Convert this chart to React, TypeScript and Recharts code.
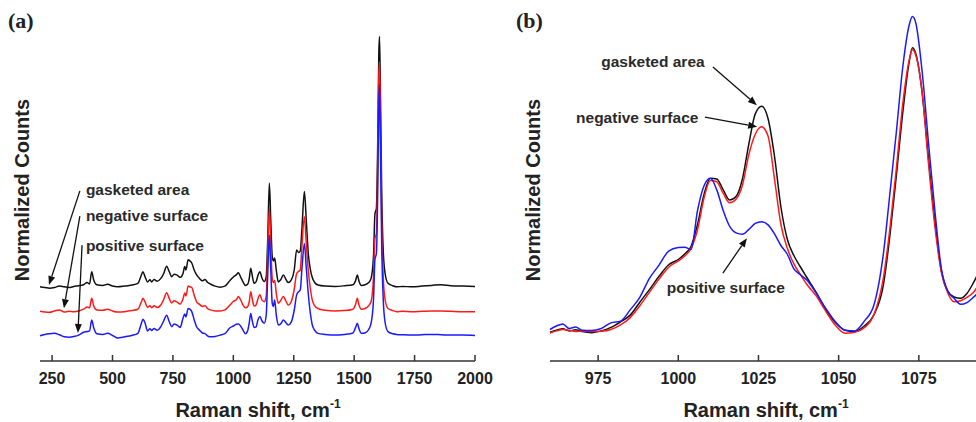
import { LineChart, Line, XAxis, YAxis, ReferenceLine, ReferenceDot } from "recharts";

// panel (a): full spectra
const shiftA = [
  200, 220, 240, 260, 280, 300, 320, 340, 360, 380, 395, 405, 414, 422, 435, 460, 480, 500, 520, 550,
  580, 605, 618, 626, 635, 645, 655, 662, 672, 685, 700, 712, 724, 735, 745, 755, 766, 780, 792, 799,
  804, 813, 820, 828, 838, 848, 860, 872, 883, 893, 905, 925, 945, 965, 986, 1000, 1012, 1021, 1030, 1040,
  1050, 1060, 1066, 1072, 1078, 1086, 1094, 1102, 1110, 1118, 1128, 1136, 1142, 1149, 1155, 1161, 1166, 1171, 1178, 1186,
  1196, 1207, 1217, 1227, 1240, 1252, 1262, 1270, 1277, 1284, 1294, 1302, 1310, 1318, 1326, 1336, 1350, 1380, 1420, 1460,
  1495, 1506, 1513, 1520, 1530, 1545, 1560, 1570, 1580, 1586, 1592, 1597, 1602, 1605, 1609, 1614, 1620, 1628, 1640, 1660,
  1676, 1700, 1740, 1780, 1820, 1860, 1900, 1950, 2000,
];
const gasketedA = [
  21.2, 21.0, 20.8, 21.0, 21.4, 21.2, 21.0, 21.3, 21.5, 21.8, 22.4, 22.0, 25.5, 23.2, 21.8, 21.6, 21.9, 21.4, 21.2, 21.4,
  21.7, 22.2, 24.3, 25.5, 24.0, 22.6, 23.2, 22.6, 23.3, 22.8, 23.6, 25.0, 27.1, 25.5, 24.1, 24.8, 24.6, 23.9, 25.1, 27.0,
  26.0, 28.9, 28.6, 28.0, 26.0, 24.6, 23.6, 22.9, 23.3, 22.5, 22.0, 21.4, 21.1, 21.4, 23.0, 24.0, 24.6, 25.2, 24.0, 22.6,
  21.6, 22.0, 23.6, 26.5, 24.5, 22.2, 22.6, 24.5, 25.5, 23.8, 22.7, 24.0, 34.0, 50.8, 40.0, 29.8, 28.6, 29.4, 25.8, 22.6,
  23.2, 24.6, 23.4, 22.4, 23.2, 26.0, 31.7, 31.0, 31.4, 38.0, 48.4, 40.0, 30.8, 26.5, 24.0, 22.5, 21.7, 21.4, 21.3, 21.5,
  21.8, 23.0, 24.6, 22.8, 21.6, 21.8, 22.4, 23.6, 30.0, 42.0, 43.6, 60.0, 88.0, 92.7, 75.0, 48.0, 32.0, 25.0, 22.2, 21.5,
  21.2, 21.3, 21.2, 21.4, 21.6, 21.8, 21.5, 21.4, 21.3,
];
const negativeA = [
  14.2, 14.0, 13.9, 14.3, 14.6, 14.0, 14.2, 14.1, 14.3, 14.8, 15.4, 15.2, 17.9, 15.8, 14.6, 14.5, 14.8, 14.3, 14.0, 14.1,
  14.4, 14.8, 16.6, 17.9, 16.8, 15.3, 15.8, 15.2, 15.8, 15.3, 16.0, 17.6, 19.5, 17.8, 16.6, 17.2, 16.9, 16.3, 17.8, 19.4,
  18.6, 21.4, 21.2, 21.0, 18.8, 16.9, 16.2, 15.6, 15.8, 15.0, 14.6, 14.3, 14.3, 14.6, 16.0, 17.0, 17.5, 18.4, 17.5, 16.0,
  15.2, 15.6, 17.0, 19.8, 17.8, 15.7, 16.0, 17.8, 18.9, 17.5, 16.9, 18.5, 30.0, 43.6, 33.0, 23.6, 22.4, 23.0, 19.2, 16.5,
  17.3, 18.4, 17.2, 16.0, 17.0, 20.5, 25.0, 25.6, 26.0, 33.0, 41.2, 33.5, 26.0, 21.0, 17.6, 15.8, 15.0, 14.5, 14.3, 14.4,
  14.8, 16.2, 17.9, 16.0, 14.8, 15.0, 15.8, 17.0, 24.0, 35.0, 36.5, 53.0, 81.0, 85.5, 67.0, 40.0, 24.5, 17.5, 15.0, 14.4,
  14.1, 14.2, 14.1, 14.2, 14.3, 14.3, 14.2, 14.1, 14.1,
];
const positiveA = [
  7.2, 7.6, 7.8, 7.9, 7.5, 6.9, 6.8, 7.0, 7.4, 8.2, 8.4, 8.6, 11.7, 9.6, 7.8, 7.6, 7.9, 7.3, 6.6, 6.9,
  7.3, 7.9, 10.4, 11.9, 10.8, 8.6, 9.2, 8.7, 9.3, 8.8, 9.8, 11.5, 13.1, 11.2, 9.8, 10.6, 10.3, 9.6, 12.3, 13.4,
  12.6, 15.0, 14.8, 14.1, 11.8, 9.8, 8.8, 8.0, 7.8, 7.2, 6.9, 7.0, 7.4, 7.8, 9.5, 10.0, 10.5, 10.6, 10.0, 8.8,
  7.8, 8.8, 11.0, 13.6, 11.6, 9.6, 9.7, 11.8, 12.7, 11.5, 10.8, 13.0, 24.0, 36.0, 26.0, 16.5, 15.6, 17.4, 13.0, 10.3,
  10.6, 11.7, 11.0, 10.3, 11.2, 14.5, 18.9, 19.8, 20.3, 26.5, 33.6, 26.5, 19.3, 14.0, 10.5, 8.8, 7.9, 7.6, 7.4, 7.6,
  8.0, 9.6, 10.8, 9.2, 7.9, 8.0, 9.0, 10.8, 17.5, 29.0, 30.8, 46.0, 74.0, 78.9, 60.0, 33.0, 18.0, 11.0, 8.4, 7.8,
  7.6, 7.5, 7.4, 7.5, 7.6, 7.5, 7.4, 7.4, 7.3,
];
const ticksA = [250, 500, 750, 1000, 1250, 1500, 1750, 2000];

// panel (b): 960-1100 cm-1 detail
const shiftB = [
  960, 962, 964, 966, 968, 970, 973, 976, 979, 982, 985, 988, 991, 994, 997, 1000, 1002, 1004, 1006, 1008,
  1010, 1012, 1014, 1016, 1018, 1020, 1022, 1024, 1026, 1028, 1030, 1032, 1034, 1036, 1038, 1040, 1043, 1046, 1049, 1052,
  1055, 1058, 1061, 1064, 1066, 1068, 1070, 1072, 1073, 1074, 1076, 1078, 1080, 1082, 1084, 1086, 1088, 1090, 1092, 1095,
  1100,
];
const gasketedB = [
  8.2, 8.8, 9.2, 8.6, 8.9, 8.4, 8.1, 8.6, 9.6, 11.2, 13.1, 16.8, 20.4, 24.2, 27.5, 29.0, 30.6, 32.8, 39.0, 47.5,
  52.2, 52.0, 48.9, 46.0, 47.0, 52.0, 62.0, 70.6, 72.8, 69.2, 58.5, 44.0, 34.8, 30.2, 27.0, 24.0, 19.6, 14.7, 11.0, 8.8,
  8.4, 10.0, 13.2, 22.0, 36.0, 53.0, 71.0, 85.5, 89.5, 88.0, 77.0, 58.0, 40.0, 26.0, 20.0, 18.3, 17.9, 19.3, 22.3, 28.0,
  38.0,
];
const negativeB = [
  8.0, 8.6, 9.0, 8.8, 8.4, 8.6, 8.4, 8.5, 9.0, 10.3, 12.4, 15.8, 19.6, 23.4, 26.8, 28.6, 30.0, 32.2, 37.5, 46.5,
  51.6, 51.2, 47.9, 45.2, 46.2, 50.2, 59.0, 64.8, 66.9, 64.2, 52.0, 39.0, 32.2, 27.8, 24.8, 22.0, 18.6, 14.2, 10.2, 7.9,
  8.2, 9.5, 13.2, 24.0, 38.0, 55.0, 73.5, 86.0, 88.9, 87.5, 77.0, 56.5, 38.5, 25.5, 19.5, 16.9, 17.2, 18.2, 19.6, 24.0,
  33.0,
];
const positiveB = [
  9.0, 10.0, 10.6, 9.3, 9.7, 8.8, 8.7, 9.3, 10.9, 11.4, 14.6, 18.2, 23.6, 27.4, 31.4, 32.4, 32.5, 31.9, 43.0, 50.0,
  52.2, 48.9, 43.0, 38.5, 36.6, 36.2, 37.6, 39.3, 39.8, 38.9, 36.3, 33.0, 30.5, 26.4, 24.7, 23.2, 19.4, 15.0, 11.2, 8.8,
  8.6, 11.4, 16.0, 31.0, 48.0, 65.5, 84.0, 96.0, 98.4, 96.8, 83.0, 62.5, 43.0, 26.5, 20.0, 17.9, 16.2, 16.7, 18.2, 21.0,
  28.0,
];
const ticksB = [975, 1000, 1025, 1050, 1075];

const rowsA = shiftA.map((x, i) => ({ x, gasketed: gasketedA[i], negative: negativeA[i], positive: positiveA[i] }));
const rowsB = shiftB.map((x, i) => ({ x, gasketed: gasketedB[i], negative: negativeB[i], positive: positiveB[i] }));

const SANS = "Arial, 'Liberation Sans', sans-serif";
const SERIF = "'Times New Roman', 'Liberation Serif', serif";
const FRAME = { stroke: "#333", strokeWidth: 1.5 };
const TICK = { fontSize: 16, fontWeight: "bold", fill: "#222", fontFamily: SANS };

const Arrow = (p: any) => {
  const { x1, y1, x2, y2 } = p;
  const a = Math.atan2(y2 - y1, x2 - x1);
  const L = 9;
  const W = 3.5;
  const bx = x2 - L * Math.cos(a);
  const by = y2 - L * Math.sin(a);
  const pts = `${x2},${y2} ${bx - W * Math.sin(a)},${by + W * Math.cos(a)} ${bx + W * Math.sin(a)},${by - W * Math.cos(a)}`;
  return (
    <g>
      <line x1={x1} y1={y1} x2={bx} y2={by} stroke="#111" strokeWidth={1.3} />
      <polygon points={pts} fill="#111" />
    </g>
  );
};

const noteShape = (text: string, anchor: "start" | "middle") => (p: any) => (
  <text
    x={p.cx}
    y={p.cy}
    textAnchor={anchor}
    dominantBaseline="central"
    fontFamily={SANS}
    fontWeight="bold"
    fontSize={15.5}
    fill="#2a2a2a"
  >
    {text}
  </text>
);

const frameAxes = (domain: number[]) => [
  <XAxis key="t" xAxisId="top" orientation="top" type="number" domain={domain} tick={false} tickLine={false} height={0} axisLine={FRAME} />,
  <YAxis key="l" domain={[0, 100]} tick={false} tickLine={false} width={0} axisLine={FRAME} />,
  <YAxis key="r" yAxisId="right" orientation="right" domain={[0, 100]} tick={false} tickLine={false} width={0} axisLine={FRAME} />,
];

const series = [
  { key: "gasketed", color: "#111111" },
  { key: "negative", color: "#ff1a1a" },
  { key: "positive", color: "#1a1aff" },
];

const xTitle = (left: number) => (
  <div
    style={{
      position: "absolute", left: left - 120, top: 400, width: 240, textAlign: "center",
      fontFamily: SANS, fontWeight: "bold", fontSize: 20, lineHeight: "20px", color: "#222", whiteSpace: "nowrap",
    }}
  >
    Raman shift, cm<span style={{ fontSize: 12, position: "relative", top: -9 }}>-1</span>
  </div>
);

const yTitle = (cx: number) => (
  <div
    style={{
      position: "absolute", left: cx, top: 190, transform: "translate(-50%, -50%) rotate(-90deg)",
      fontFamily: SANS, fontWeight: "bold", fontSize: 20, lineHeight: "20px", color: "#222", whiteSpace: "nowrap",
    }}
  >
    Normalized Counts
  </div>
);

const panelLetter = (left: number, text: string) => (
  <div
    style={{
      position: "absolute", left, top: 10, fontFamily: SERIF, fontWeight: "bold", fontSize: 22,
      lineHeight: "22px", color: "#222",
    }}
  >
    {text}
  </div>
);

export default function App() {
  return (
    <div style={{ position: "fixed", left: 0, top: 0, width: 976, height: 422, overflow: "hidden", background: "#fff" }}>
      <div style={{ position: "absolute", left: 0, top: 0 }}>
        <LineChart width={500} height={422} data={rowsA} margin={{ top: 11, right: 25, bottom: 31, left: 40 }}>
          <XAxis
            dataKey="x"
            type="number"
            domain={[200, 2000]}
            ticks={ticksA}
            interval={0}
            tickSize={-6}
            tickMargin={18}
            tick={TICK}
            tickLine={FRAME}
            axisLine={FRAME}
            height={30}
          />
          {frameAxes([200, 2000])}
          {series.map((s) => (
            <Line key={s.key} dataKey={s.key} type="monotone" stroke={s.color} strokeWidth={1.5} dot={false} isAnimationActive={false} />
          ))}
          <ReferenceLine segment={[{ x: 365, y: 48.6 }, { x: 237, y: 21.7 }]} shape={Arrow} />
          <ReferenceLine segment={[{ x: 365, y: 41.4 }, { x: 299, y: 15.1 }]} shape={Arrow} />
          <ReferenceLine segment={[{ x: 374, y: 33.1 }, { x: 357, y: 8.0 }]} shape={Arrow} />
          <ReferenceDot x={390} y={49.1} r={0} shape={noteShape("gasketed area", "start")} />
          <ReferenceDot x={390} y={41.7} r={0} shape={noteShape("negative surface", "start")} />
          <ReferenceDot x={390} y={32.9} r={0} shape={noteShape("positive surface", "start")} />
        </LineChart>
      </div>
      <div style={{ position: "absolute", left: 490, top: 0 }}>
        <LineChart width={520} height={422} data={rowsB} margin={{ top: 11, right: 11, bottom: 31, left: 60 }}>
          <XAxis
            dataKey="x"
            type="number"
            domain={[960, 1100]}
            ticks={ticksB}
            interval={0}
            tickSize={-6}
            tickMargin={18}
            tick={TICK}
            tickLine={FRAME}
            axisLine={FRAME}
            height={30}
          />
          {frameAxes([960, 1100])}
          {series.map((s) => (
            <Line key={s.key} dataKey={s.key} type="monotone" stroke={s.color} strokeWidth={1.5} dot={false} isAnimationActive={false} />
          ))}
          <ReferenceLine segment={[{ x: 1010.8, y: 84 }, { x: 1024.5, y: 73.1 }]} shape={Arrow} />
          <ReferenceLine segment={[{ x: 1008.3, y: 69.7 }, { x: 1024.6, y: 66.9 }]} shape={Arrow} />
          <ReferenceLine segment={[{ x: 1013.9, y: 25.1 }, { x: 1021.4, y: 35.1 }]} shape={Arrow} />
          <ReferenceDot x={992.1} y={85.7} r={0} shape={noteShape("gasketed area", "middle")} />
          <ReferenceDot x={987.2} y={69.7} r={0} shape={noteShape("negative surface", "middle")} />
          <ReferenceDot x={1014.8} y={21.1} r={0} shape={noteShape("positive surface", "middle")} />
        </LineChart>
      </div>
      {panelLetter(8, "(a)")}
      {panelLetter(516, "(b)")}
      {yTitle(22)}
      {yTitle(533)}
      {xTitle(258)}
      {xTitle(766)}
    </div>
  );
}
